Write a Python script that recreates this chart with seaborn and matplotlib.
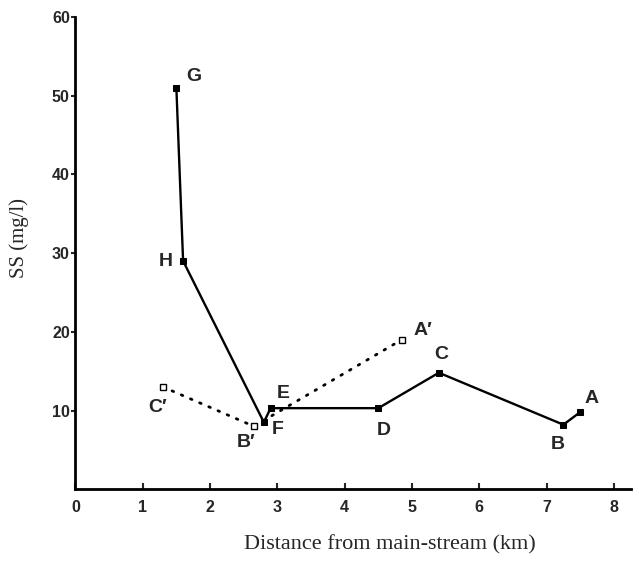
import matplotlib
matplotlib.use("Agg")
import matplotlib.pyplot as plt
import seaborn as sns
import pandas as pd

# Stations along the main channel (solid line, filled markers)
main_labels = ["G", "H", "F", "E", "D", "C", "B", "A"]
main_dist = [1.5, 1.6, 2.8, 2.9, 4.5, 5.4, 7.25, 7.5]
main_ss = [51.0, 29.0, 8.5, 10.3, 10.3, 14.8, 8.2, 9.8]

# Branch stations (dotted line, open markers)
branch_labels = ["C\u2032", "B\u2032", "A\u2032"]
branch_dist = [1.3, 2.65, 4.85]
branch_ss = [13.0, 8.0, 19.0]

x_ticks = [0, 1, 2, 3, 4, 5, 6, 7, 8]
y_ticks = [10, 20, 30, 40, 50, 60]

# label offsets in pixels (dx, dy) from each marker
main_offsets = [(17, 11), (-17, -1), (14, -7), (13, 15), (5, -22),
                (2, 18), (-6, -20), (11, 14)]
branch_offsets = [(-5, -21), (-8, -16), (21, 9)]

main_df = pd.DataFrame({"dist": main_dist, "ss": main_ss})
branch_df = pd.DataFrame({"dist": branch_dist, "ss": branch_ss})

sns.set_style("ticks")
plt.rcParams["font.family"] = ["Liberation Sans", "DejaVu Sans"]

fig = plt.figure(figsize=(6.39, 5.63), dpi=100)
ax = fig.add_axes([0.118, 0.131, 0.869, 0.839])

sns.lineplot(data=main_df, x="dist", y="ss", sort=False, estimator=None,
             color="black", linewidth=1.7, marker="s", markersize=4.5,
             markerfacecolor="black", markeredgecolor="black", ax=ax)
sns.lineplot(data=branch_df, x="dist", y="ss", sort=False, estimator=None,
             color="black", linewidth=2.0, linestyle=(0, (0.6, 3.0)),
             dash_capstyle="round", marker="s", markersize=4.5,
             markerfacecolor="white", markeredgecolor="black",
             markeredgewidth=1.0, ax=ax)

for lab, x, y, off in zip(main_labels, main_dist, main_ss, main_offsets):
    ax.annotate(lab, (x, y), xytext=off, textcoords="offset pixels",
                ha="center", va="center", fontsize=14, fontweight="bold")
for lab, x, y, off in zip(branch_labels, branch_dist, branch_ss, branch_offsets):
    ax.annotate(lab, (x, y), xytext=off, textcoords="offset pixels",
                ha="center", va="center", fontsize=14, fontweight="bold")

ax.set_xlim(0, 8.25)
ax.set_ylim(0, 60)
ax.set_xticks(x_ticks)
ax.set_yticks(y_ticks)
ax.set_xticklabels([str(t) for t in x_ticks], fontsize=11.5, fontweight="bold")
ax.set_yticklabels([str(t) for t in y_ticks], fontsize=11.5, fontweight="bold")
ax.tick_params(axis="x", direction="in", length=4, width=1.5, pad=8)
ax.tick_params(axis="y", direction="out", length=3, width=1.5, pad=1)
ax.set_xlabel("")
ax.set_ylabel("")

sns.despine(ax=ax)
for side in ["left", "bottom"]:
    ax.spines[side].set_linewidth(2)
    ax.spines[side].set_color("black")

fig.text(0.61, 0.032, "Distance from main-stream (km)", ha="center",
         va="center", fontsize=16, family="Liberation Serif")
fig.text(0.03, 0.578, "SS (mg/l)", ha="center", va="center",
         rotation=90, fontsize=15, family="Liberation Serif")

fig.savefig("out.png", dpi=100)
